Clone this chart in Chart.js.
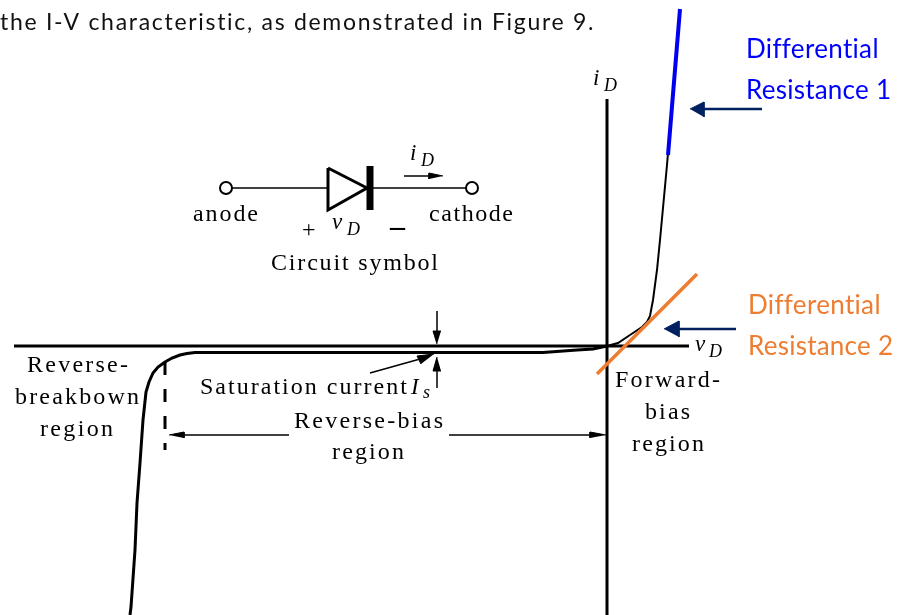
<!DOCTYPE html>
<html>
<head>
<meta charset="utf-8">
<title>Diode I-V characteristic</title>
<script src="https://cdn.jsdelivr.net/npm/chart.js@4"></script>
<style>
  html, body { margin: 0; padding: 0; background: #fff; }
  canvas { display: block; }
</style>
</head>
<body>
<canvas id="ivChart" width="897" height="615"></canvas>
<script>
const axisV = [[607, 99], [607, 615]];
const axisH = [[14, 346], [689, 346]];
const curveReverse = [[130, 615], [131, 607], [135, 550], [137, 503], [140, 463], [143, 420], [146, 392], [149, 382], [153, 373], [158, 367], [165, 362], [172, 358], [180, 355], [187, 353.5], [195, 352.5], [543, 352.5], [577, 350], [593, 349], [607, 346]];
const curveForward = [[607, 346], [618, 343], [630, 335], [642, 327], [647, 322], [650, 316], [653, 300], [657, 270], [660, 240], [667, 165], [678, 35]];
const tangent1 = [[680, 9], [668, 155]];
const tangent2 = [[597, 374], [697, 274]];
const breakdownEdge = [[165, 362], [165, 450]];

const pointer1 = [[762, 109], [700, 109]];
const pointer1Head = [[690, 109], [704, 102], [704, 117]];
const pointer2 = [[736, 329], [674, 329]];
const pointer2Head = [[664, 329], [679, 321], [679, 337]];

const spanLeft = [[289, 435], [180, 435]];
const spanLeftHead = [[169, 435], [184, 432], [184, 438]];
const spanRight = [[449, 435], [595, 435]];
const spanRightHead = [[606, 435], [590, 432], [590, 438]];
const satDown = [[437, 311], [437, 335]];
const satDownHead = [[437, 344], [433, 331], [441, 331]];
const satUp = [[437, 388], [437, 368]];
const satUpHead = [[437, 357], [433, 371], [441, 371]];
const satSlant = [[370, 373], [420, 359]];
const satSlantHead = [[434, 354], [417, 356], [421, 364]];

const wireLeft = [[226, 188], [328, 188]];
const wireRight = [[370, 188], [472, 188]];
const diodeBody = [[328, 168], [328, 210], [367, 188], [328, 168]];
const diodeBar = [[370, 166], [370, 210]];
const terminals = [[226, 188], [472, 188]];
const currentArrow = [[404, 176], [432, 176]];
const currentHead = [[443, 176], [429, 173], [429, 179]];

// text, left, right (null = natural width), baseline, style
const labels = [
  ['the I-V characteristic, as demonstrated in Figure 9.', 0, 594, 30, 'body'],
  ['Differential', 746, 878, 58, 'blue'],
  ['Resistance 1', 746, 891, 99, 'blue'],
  ['Differential', 748, 880, 314, 'orange'],
  ['Resistance 2', 748, 893, 355, 'orange'],
  ['anode', 193, 258, 221, 'serif'],
  ['cathode', 429, 513, 221, 'serif'],
  ['Circuit symbol', 271, 438, 270, 'serif'],
  ['Reverse-', 27, 128, 372, 'serif'],
  ['breakbown', 15, 139, 404, 'serif'],
  ['region', 40, 113, 436, 'serif'],
  ['Saturation current', 200, 407, 394, 'serif'],
  ['Reverse-bias', 294, 443, 428, 'serif'],
  ['region', 332, 404, 459, 'serif'],
  ['Forward-', 615, 720, 387, 'serif'],
  ['bias', 645, 690, 419, 'serif'],
  ['region', 632, 704, 451, 'serif'],
  ['+', 302, null, 237, 'serif'],
  ['–', 390, null, 236, 'dash'],
  ['I', 411, null, 394, 'ital'],
  ['s', 423, null, 398, 'sub'],
  ['i', 410, null, 160, 'ital'],
  ['D', 421, null, 166, 'sub'],
  ['i', 593, null, 85, 'ital'],
  ['D', 604, null, 91, 'sub'],
  ['v', 332, null, 229, 'ital'],
  ['D', 347, null, 235, 'sub'],
  ['v', 695, null, 351, 'ital'],
  ['D', 709, null, 357, 'sub']
];

const labelStyles = {
  body: { font: '23px Lato', color: '#111111' },
  blue: { font: '26px Lato', color: '#0000ff' },
  orange: { font: '26px Lato', color: '#ed7d31' },
  serif: { font: '24px "Liberation Serif"', color: '#000000' },
  dash: { font: 'bold 30px "Liberation Serif"', color: '#000000' },
  ital: { font: 'italic 23px "Liberation Serif"', color: '#000000' },
  sub: { font: 'italic 18px "Liberation Serif"', color: '#000000' }
};

const toXY = pts => pts.map(p => ({ x: p[0], y: p[1] }));

const line = (pts, color, width, extra) => Object.assign({
  data: toXY(pts),
  showLine: true,
  borderColor: color,
  borderWidth: width,
  pointRadius: 0,
  borderCapStyle: 'butt',
  tension: 0
}, extra || {});

const head = (pts, color) => line(pts, color, 1, { fill: 'shape', backgroundColor: color });

const NAVY = '#002060';
const INK = '#000000';

// 先畫的 dataset 在最上層
const datasets = [
  line(tangent1, '#0000ee', 4),
  line(tangent2, '#ed7d31', 3.5),
  {
    data: toXY(terminals),
    showLine: false,
    pointRadius: 6,
    pointBackgroundColor: '#ffffff',
    pointBorderColor: INK,
    pointBorderWidth: 2
  },
  line(diodeBar, INK, 7),
  line(diodeBody, INK, 3),
  line(wireLeft, INK, 1.5),
  line(wireRight, INK, 1.5),
  line(currentArrow, INK, 1.5),
  head(currentHead, INK),
  line(pointer1, NAVY, 2.5),
  head(pointer1Head, NAVY),
  line(pointer2, NAVY, 2.5),
  head(pointer2Head, NAVY),
  line(axisV, INK, 3),
  line(axisH, INK, 3),
  line(curveForward, INK, 2),
  line(curveReverse, INK, 3),
  line(breakdownEdge, INK, 3, { borderDash: [13, 14] }),
  line(spanLeft, INK, 1.5),
  head(spanLeftHead, INK),
  line(spanRight, INK, 1.5),
  head(spanRightHead, INK),
  line(satDown, INK, 1.5),
  head(satDownHead, INK),
  line(satUp, INK, 1.5),
  head(satUpHead, INK),
  line(satSlant, INK, 1.5),
  head(satSlantHead, INK)
];

const labelPlugin = {
  id: 'labelPlugin',
  afterDraw(chart) {
    const { ctx, scales } = chart;
    ctx.save();
    ctx.textAlign = 'left';
    ctx.textBaseline = 'alphabetic';
    labels.forEach(([text, left, right, base, style]) => {
      const s = labelStyles[style];
      ctx.font = s.font;
      ctx.fillStyle = s.color;
      ctx.letterSpacing = '0px';
      if (right !== null) {
        // 字距拉到和原圖同寬
        const gap = (right - left - ctx.measureText(text).width) / (text.length - 1);
        ctx.letterSpacing = gap.toFixed(2) + 'px';
      }
      ctx.fillText(text, scales.x.getPixelForValue(left), scales.y.getPixelForValue(base));
    });
    ctx.restore();
  }
};

new Chart(document.getElementById('ivChart'), {
  type: 'scatter',
  data: { datasets },
  options: {
    responsive: false,
    animation: false,
    layout: { padding: 0, autoPadding: false },
    plugins: { legend: { display: false }, tooltip: { enabled: false } },
    scales: {
      x: { type: 'linear', display: false, min: 0, max: 897 },
      y: { type: 'linear', display: false, min: 0, max: 615, reverse: true }
    }
  },
  plugins: [labelPlugin]
});
</script>
</body>
</html>
